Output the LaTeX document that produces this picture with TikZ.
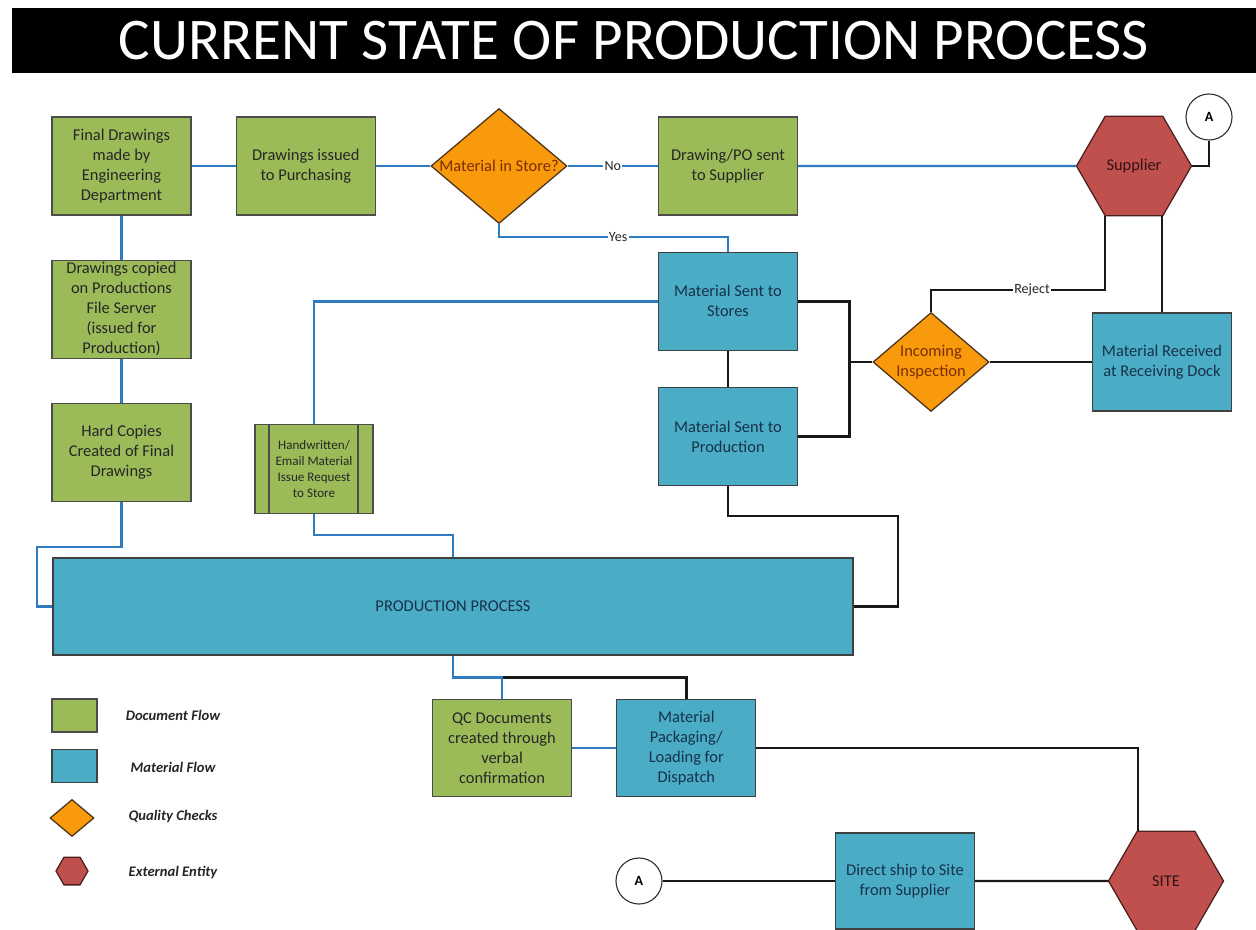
\documentclass[tikz,border=0pt]{standalone}
\usepackage{fontspec}
\setmainfont{Carlito}
\usepackage{xcolor}
\usepackage{tikz}
\usetikzlibrary{shapes.geometric, positioning, calc}

\definecolor{docgreen}{HTML}{9BBB59}
\definecolor{matblue}{HTML}{4BACC6}
\definecolor{qcorange}{HTML}{F99A0C}
\definecolor{extred}{HTML}{C0504D}
\definecolor{flowblue}{HTML}{2E7BC0}
\definecolor{navytext}{HTML}{17324A}
\definecolor{browntext}{HTML}{7A2E00}

\newcommand{\boxfont}{\fontsize{11.7}{14.2}\selectfont}
\newcommand{\smallboxfont}{\fontsize{9.3}{11.4}\selectfont}
\newcommand{\tagfont}{\fontsize{10}{12}\selectfont}

\begin{document}
\begin{tikzpicture}[
                x=0.025cm, y=-0.025cm,
                node distance=1.1cm,
                docbox/.style={rectangle, draw=black!70, line width=0.9pt, fill=docgreen, minimum width=3.475cm, minimum height=2.45cm, inner sep=1pt, align=center, font=\boxfont, text=black!85},
                matbox/.style={docbox, fill=matblue, draw=black!75, text=navytext},
                subproc/.style={docbox, font=\smallboxfont, minimum width=2.95cm, minimum height=2.225cm,
                    path picture={\draw[black!70, line width=0.9pt]
                        ([xshift=0.35cm]path picture bounding box.north west) -- ([xshift=0.35cm]path picture bounding box.south west)
                        ([xshift=-0.375cm]path picture bounding box.north east) -- ([xshift=-0.375cm]path picture bounding box.south east);}},
                check/.style={diamond, aspect=1.18, draw=black!60!brown, line width=0.9pt, fill=qcorange, inner sep=0pt, minimum width=3.4cm, minimum height=2.875cm, align=center, font=\boxfont, text=browntext},
                entity/.style={regular polygon, regular polygon sides=6, draw=black!60!extred, line width=0.9pt, fill=extred, inner sep=0pt, outer sep=0pt, minimum size=2.875cm, font=\boxfont, text=black!75!extred},
                offpage/.style={circle, draw=black!80, line width=0.8pt, fill=white, minimum size=1.15cm, inner sep=0pt, font=\tagfont\bfseries},
                docline/.style={draw=flowblue, line width=1.7pt},
                matline/.style={draw=black!90, line width=1.7pt},
                tag/.style={fill=white, inner sep=1pt, font=\tagfont, text=black!85},
                legendtxt/.style={font=\fontsize{10.4}{12}\selectfont\bfseries\itshape, text=black!85}
            ]
                \useasboundingbox (0,0) rectangle (1256,929);

                % Title
                \node[fill=black, text=white, minimum width=31.1cm, minimum height=1.625cm, inner sep=0pt, font=\fontsize{42}{50}\selectfont] (title) at (634,40.5) {CURRENT STATE OF PRODUCTION PROCESS};

                % Document nodes
                \node[docbox] (final) at (121.5,166) {Final Drawings\\made by\\Engineering\\Department};
                \node[docbox, right=of final] (issued) {Drawings issued\\to Purchasing};
                \node[docbox, below=of final, inner sep=0.5pt] (copied) {Drawings copied\\on Productions\\File Server\\(issued for\\Production)};
                \node[docbox, below=of copied] (hard) {Hard Copies\\Created of Final\\Drawings};
                \node[subproc] (request) at (314,469) {Handwritten/\\Email Material\\Issue Request\\to Store};
                \node[check] (instore) at (499,166) {Material in Store?};
                \node[docbox] (po) at (728,166) {Drawing/PO sent\\to Supplier};
                \node[entity] (supplier) at (1134,166) {Supplier};
                \node[offpage] (atop) at (1209,117) {A};

                % Material nodes
                \node[matbox, below=0.9cm of po] (stores) {Material Sent to\\Stores};
                \node[matbox, below=0.9cm of stores] (toprod) {Material Sent to\\Production};
                \node[check, aspect=1.17, minimum width=2.9cm, minimum height=2.475cm] (inspect) at (931,362) {Incoming\\Inspection};
                \node[matbox] (received) at (1162,362) {Material Received\\at Receiving Dock};
                \node[matbox, minimum width=20cm, minimum height=2.425cm] (prod) at (453,606.5) {PRODUCTION PROCESS};
                \node[docbox, minimum height=2.425cm] (qc) at (502,748) {QC Documents\\created through\\verbal\\confirmation};
                \node[matbox, minimum height=2.425cm, right=of qc] (pack) {Material\\Packaging/\\Loading for\\Dispatch};
                \node[offpage] (abot) at (639,881) {A};
                \node[matbox, minimum height=2.4cm] (direct) at (905,881) {Direct ship to Site\\from Supplier};
                \node[entity] (site) at (1166,881) {SITE};

                % Document flow
                \draw[docline] (final) -- (issued);
                \draw[docline] (issued) -- (instore);
                \draw[docline] (instore) -- node[tag]{No} (po);
                \draw[docline] (po) -- (supplier);
                \draw[docline] (instore.south) -- ++(0,13) -| node[tag, pos=0.26]{Yes} (stores.north);
                \draw[docline] (final) -- (copied);
                \draw[docline] (copied) -- (hard);
                \draw[docline] (hard.south) -- ++(0,45) -| ([xshift=-0.375cm]prod.west) -- (prod.west);
                \draw[docline] (stores.west) -| (request.north);
                \draw[docline] (request.south) -- ++(0,21) -| (prod.north);

                % Material flow
                \draw[matline] (prod.south) -- ++(0,22) -| (pack.north);
                \draw[docline] (prod.south) -- ++(0,22) -| (qc.north);
                \draw[docline] (qc) -- (pack);
                \draw[matline] (stores) -- (toprod);
                \draw[matline] (stores.east) -| ([xshift=-0.575cm]inspect.west) -- (inspect.west);
                \draw[matline] (toprod.east) -| ([xshift=-0.575cm]inspect.west);
                \draw[matline] (inspect) -- (received);
                \draw[matline] (inspect.north) -- ++(0,-22) -| node[tag, pos=0.29]{Reject} ([xshift=-0.72cm]supplier.south);
                \draw[matline] (received.north) -- (received.north |- supplier.south);
                \draw[matline] (supplier.east) -| (atop.south);
                \draw[matline] (toprod.south) -- ++(0,30) -| ([xshift=1.1cm]prod.east) -- (prod.east);
                \draw[matline] (pack.east) -| ([xshift=-0.7cm]site.north);
                \draw[matline] (abot) -- (direct);
                \draw[matline] (direct) -- (site);

                % Legend
                \node[docbox, minimum width=1.125cm, minimum height=0.825cm] (kdoc) at (74.5,715.5) {};
                \node[matbox, minimum width=1.125cm, minimum height=0.825cm] (kmat) at (74.5,766) {};
                \node[check, minimum width=1.1cm, minimum height=0.925cm] (kqc) at (72,818) {};
                \node[entity, minimum size=0.8cm] (kext) at (72,871) {};
                \node[legendtxt] at (173,715) {Document Flow};
                \node[legendtxt] at (173,767) {Material Flow};
                \node[legendtxt] at (173,817) {Quality Checks};
                \node[legendtxt] at (173,873) {External Entity};
            \end{tikzpicture}
\end{document}
